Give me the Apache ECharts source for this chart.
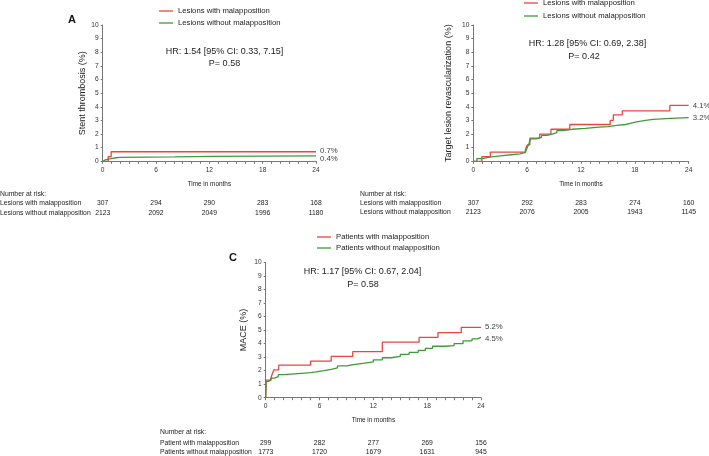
<!DOCTYPE html>
<html><head><meta charset="utf-8">
<script src="https://cdn.jsdelivr.net/npm/echarts@6/dist/echarts.min.js"></script>
<style>html,body{margin:0;padding:0;background:#fff}#c{width:709px;height:456px}</style>
</head><body><div id="c"></div>
<script>
// ---------- data ----------
const riskMonths = [0, 6, 12, 18, 24];
const yTicks = [0,1,2,3,4,5,6,7,8,9,10];

// Panel A: stent thrombosis (%)
const stWith    = [[0,0],[0.62,0.35],[0.95,0.7],[24,0.7]];
const stWithout = [[0,0],[0.15,0.1],[0.3,0.2],[0.9,0.22],[1.1,0.26],[1.5,0.29],[1.9,0.32],[8.1,0.36],[12.3,0.4],[24,0.4]];
const riskA_with    = [307, 294, 290, 283, 168];
const riskA_without = [2123, 2092, 2049, 1996, 1180];

// Panel B: target lesion revascularization (%)
const tlrWith = [[0,0],[0.95,0.34],[1.9,0.68],[5.8,0.85],[6.0,1.2],[6.3,1.7],[7.4,2.0],[8.65,2.35],[10.75,2.7],[15.25,3.0],[15.6,3.4],[16.6,3.7],[21.9,4.1],[24,4.1]];
const tlrWithout = [[0,0],[0.4,0.2],[1.0,0.3],[1.8,0.4],[3.0,0.5],[4.5,0.55],[5.2,0.65],[5.8,0.72],[6.0,1.0],[6.2,1.3],[6.4,1.65],[7.0,1.75],[7.6,1.9],[8.2,2.0],[8.8,2.1],[9.3,2.25],[10.0,2.35],[11.0,2.42],[12.5,2.5],[14.0,2.55],[15.0,2.63],[16.0,2.7],[17.0,2.8],[17.6,2.9],[18.2,3.0],[19.2,3.07],[20.0,3.15],[22.0,3.2],[24,3.2]];
const riskB_with    = [307, 292, 283, 274, 160];
const riskB_without = [2123, 2076, 2005, 1943, 1145];

// Panel C: MACE (%)
const maceWith = [[0,0],[0.05,1.3],[0.5,1.4],[0.7,1.7],[0.9,2.05],[1.45,2.4],[5.0,2.7],[7.3,3.05],[9.7,3.4],[13.0,4.1],[17.1,4.45],[19.2,4.8],[21.8,5.2],[24,5.2]];
const maceWithout = [[0,0],[0.05,1.2],[0.3,1.3],[0.6,1.45],[1.0,1.55],[1.4,1.7],[2.0,1.8],[4.0,1.85],[5.0,1.9],[5.6,2.0],[6.5,2.1],[7.3,2.2],[8.0,2.35],[9.0,2.45],[9.8,2.55],[11.0,2.65],[12.0,2.8],[13.0,2.95],[14.0,3.05],[15.0,3.2],[16.0,3.35],[17.0,3.5],[17.8,3.65],[18.6,3.8],[20.0,3.85],[21.0,4.0],[22.0,4.2],[23.0,4.35],[23.6,4.45],[24,4.45]];
const riskC_with    = [299, 282, 277, 269, 156];
const riskC_without = [1773, 1720, 1679, 1631, 945];

const endLabels = { A: ['0.7%','0.4%'], B: ['4.1%','3.2%'], C: ['5.2%','4.5%'] };
const hrText = {
  A: ['HR: 1.54 [95% CI: 0.33, 7.15]', 'P= 0.58'],
  B: ['HR: 1.28 [95% CI: 0.69, 2.38]', 'P= 0.42'],
  C: ['HR: 1.17 [95% CI: 0.67, 2.04]', 'P= 0.58']
};
const yTitles = ['Stent thrombosis (%)', 'Target lesion revascularization (%)', 'MACE (%)'];
const xTitle = 'Time in months';
const lesionNames = ['Lesions with malapposition', 'Lesions without malapposition'];
const patientNames = ['Patients with malapposition', 'Patients without malapposition'];
const riskRowsLesion = ['Lesions with malapposition', 'Lesions without malapposition'];
const riskRowsPatient = ['Patient with malapposition', 'Patients without malapposition'];

// ---------- chart ----------
const FONT = '"Liberation Sans", Arial, sans-serif';
const RED = '#e8473f', GREEN = '#3f9a3a';
const chart = echarts.init(document.getElementById('c'), null, {renderer:'canvas'});

const grids = [
  {left:102.7, top:25, width:213.3, height:136.3},
  {left:473.3, top:25, width:215.4, height:136.3},
  {left:265.7, top:262.3, width:215.3, height:135.4}
];
const nameGaps = [16, 20, 18];

function xAx(i){
  return {type:'value', gridIndex:i, min:0, max:24, interval:6,
    name: xTitle, nameLocation:'middle', nameGap:20,
    nameTextStyle:{fontSize:6.4, color:'#222', fontFamily:FONT},
    axisLine:{lineStyle:{color:'#777', width:1}},
    axisTick:{show:true, length:2.5, lineStyle:{color:'#777'}},
    minorTick:{show:true, splitNumber:6, length:2.5, lineStyle:{color:'#777'}},
    splitLine:{show:false},
    axisLabel:{fontSize:6.6, color:'#333', margin:5, fontFamily:FONT}};
}
function yAx(i){
  return {type:'value', gridIndex:i, min:0, max:10, interval:1,
    name: yTitles[i], nameLocation:'middle', nameGap:nameGaps[i], nameRotate:90,
    nameTextStyle:{fontSize:9, color:'#222', fontFamily:FONT},
    axisLine:{show:true, lineStyle:{color:'#777', width:1}},
    axisTick:{show:true, length:2, lineStyle:{color:'#777'}},
    splitLine:{show:false},
    axisLabel:{fontSize:6.6, color:'#333', margin:4, fontFamily:FONT,
      formatter: v => yTicks.includes(v) ? String(v) : ''}};
}
function km(name, data, color, gi, end, dy){
  return {type:'line', name, data, step:'end', xAxisIndex:gi, yAxisIndex:gi,
    showSymbol:false, symbol:'none', silent:true, animation:false,
    lineStyle:{color, width:1.3}, itemStyle:{color},
    endLabel:{show:true, formatter:end, color:'#444', fontSize:7.8, distance:4, fontFamily:FONT, offset:[0, dy||0]}};
}
function legend(names, left, top, gap){
  return {data:names, left, top, orient:'vertical', icon:'rect', itemWidth:14, itemHeight:1.3,
    itemGap:gap, padding:0, selectedMode:false,
    textStyle:{fontSize:7.7, color:'#222', fontFamily:FONT, lineHeight:10}};
}

chart.setOption({
  animation:false,
  grid: grids,
  xAxis: [xAx(0), xAx(1), xAx(2)],
  yAxis: [yAx(0), yAx(1), yAx(2)],
  legend: [legend(lesionNames, 159, 6, 2), legend(lesionNames, 524, -2, 3), legend(patientNames, 317, 232, 1)],
  series: [
    km(lesionNames[0], stWith, RED, 0, endLabels.A[0], -0.5),
    km(lesionNames[1], stWithout, GREEN, 0, endLabels.A[1], 3.5),
    km(lesionNames[0], tlrWith, RED, 1, endLabels.B[0]),
    km(lesionNames[1], tlrWithout, GREEN, 1, endLabels.B[1]),
    km(patientNames[0], maceWith, RED, 2, endLabels.C[0]),
    km(patientNames[1], maceWithout, GREEN, 2, endLabels.C[1], 1)
  ]
});

// ---------- annotations ----------
const g = [];
function txt(x, y, s, opt){
  g.push({type:'text', x, y, silent:true, style:Object.assign({text:s, fill:'#222', font:'9px '+FONT,
    textAlign:'left', textVerticalAlign:'middle'}, opt||{})});
}
txt(72, 20, 'A', {font:'bold 11px '+FONT, textAlign:'center', fill:'#111'});
txt(233, 258, 'C', {font:'bold 11px '+FONT, textAlign:'center', fill:'#111'});
txt(224.5, 52, hrText.A[0], {textAlign:'center'});
txt(224.5, 63.5, hrText.A[1], {textAlign:'center'});
txt(587.5, 44, hrText.B[0], {textAlign:'center'});
txt(584, 57, hrText.B[1], {textAlign:'center'});
txt(362.5, 272, hrText.C[0], {textAlign:'center'});
txt(363, 285, hrText.C[1], {textAlign:'center'});

function riskTable(gi, labelX, yHead, yRow1, yRow2, rows, v1, v2){
  const f = '6.8px ' + FONT;
  txt(labelX, yHead, 'Number at risk:', {font:f});
  txt(labelX, yRow1, rows[0], {font:f});
  txt(labelX, yRow2, rows[1], {font:f});
  riskMonths.forEach((m, k) => {
    const px = chart.convertToPixel({gridIndex:gi}, [m, 0])[0];
    txt(px, yRow1, String(v1[k]), {font:f, textAlign:'center'});
    txt(px, yRow2, String(v2[k]), {font:f, textAlign:'center'});
  });
}
riskTable(0, 0, 194, 203.5, 213, riskRowsLesion, riskA_with, riskA_without);
riskTable(1, 360, 194, 203.5, 212, riskRowsLesion, riskB_with, riskB_without);
riskTable(2, 160, 432.5, 443, 452.5, riskRowsPatient, riskC_with, riskC_without);

chart.setOption({graphic: g});
</script></body></html>
